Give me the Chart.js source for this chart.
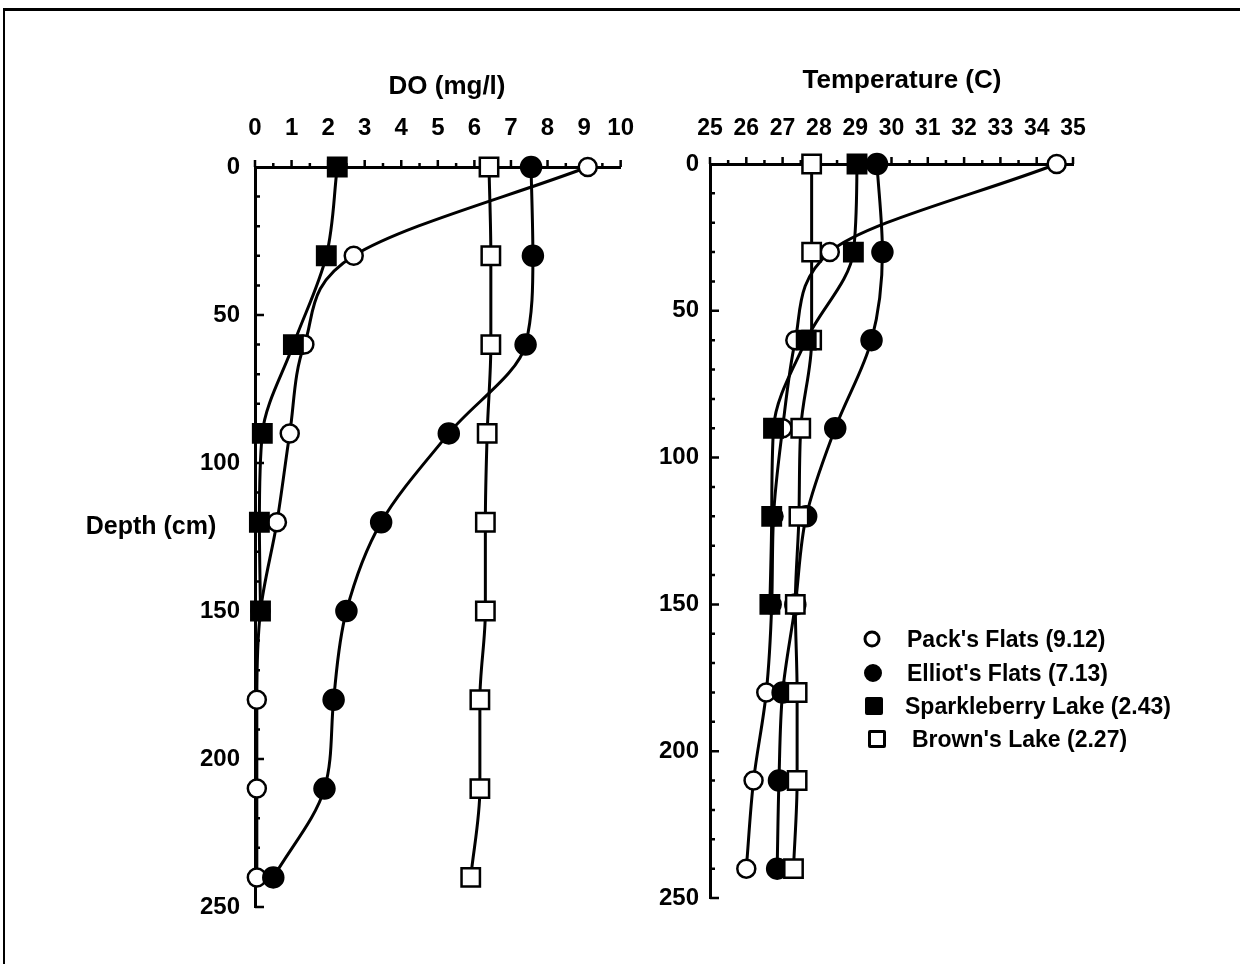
<!DOCTYPE html>
<html>
<head>
<meta charset="utf-8">
<script src="https://cdn.jsdelivr.net/npm/chart.js@4.4.1/dist/chart.umd.min.js"></script>
<style>
  body { margin: 0; background: #fff; width: 1240px; height: 964px; position: relative; overflow: hidden;
         font-family: "Liberation Sans", Arial, sans-serif; font-weight: bold; color: #000; }
  canvas { position: absolute; }
  .frame { position: absolute; left: 3px; top: 8px; width: 1240px; height: 960px;
           border-top: 3px solid #000; border-left: 2px solid #000; }
  .txt { position: absolute; white-space: nowrap; line-height: 1; transform: translate(-50%, -50%); }
  .leg { position: absolute; left: 0; top: 0; }
  .row { position: absolute; white-space: nowrap; font-size: 23px; line-height: 1; transform: translateY(-50%); }
  .mk { position: absolute; box-sizing: border-box; transform: translate(-50%, -50%); border: 3px solid #000; }
</style>
</head>
<body>
<div class="frame"></div>
<canvas id="doChart" width="470" height="964" style="left:180px;top:0"></canvas>
<canvas id="tempChart" width="590" height="964" style="left:650px;top:0"></canvas>

<div class="txt" style="left:447px;top:85px;font-size:26px">DO (mg/l)</div>
<div class="txt" style="left:902px;top:79px;font-size:26px">Temperature (C)</div>
<div class="txt" style="left:151px;top:525px;font-size:25px">Depth (cm)</div>
<div id="legend" class="leg"></div>

<script>
// sampling depths (cm) and axis ticks
const depths = [0, 30, 60, 90, 120, 150, 180, 210, 240]
const siteNames = ["Pack's Flats (9.12)", "Elliot's Flats (7.13)", "Sparkleberry Lake (2.43)", "Brown's Lake (2.27)"]

// dissolved oxygen (mg/l)
const doPacks = [9.1, 2.7, 1.35, 0.95, 0.6, 0.15, 0.05, 0.05, 0.05]
const doElliots = [7.55, 7.6, 7.4, 5.3, 3.45, 2.5, 2.15, 1.9, 0.5]
const doSparkle = [2.25, 1.95, 1.05, 0.2, 0.12, 0.15]
const doBrowns = [6.4, 6.45, 6.45, 6.35, 6.3, 6.3, 6.15, 6.15, 5.9]

// temperature (C)
const tPacks = [34.55, 28.3, 27.35, 27.0, 26.75, 26.7, 26.55, 26.2, 26.0]
const tElliots = [29.6, 29.75, 29.45, 28.45, 27.65, 27.35, 27.0, 26.9, 26.85]
const tSparkle = [29.05, 28.95, 27.65, 26.75, 26.7, 26.65]
const tBrowns = [27.8, 27.8, 27.8, 27.5, 27.45, 27.35, 27.4, 27.4, 27.3]

const markers = [
  { pointStyle: 'circle', pointRadius: 9, pointBackgroundColor: '#fff' },
  { pointStyle: 'circle', pointRadius: 10, pointBackgroundColor: '#000' },
  { pointStyle: 'rect', pointRadius: 13, pointBackgroundColor: '#000' },
  { pointStyle: 'rect', pointRadius: 13, pointBackgroundColor: '#fff' }
]

const toPoints = vals => vals.map((v, i) => ({ x: v, y: depths[i] }))

const makeDatasets = (series) => series.map((vals, i) => ({
  label: siteNames[i],
  data: toPoints(vals),
  borderColor: '#000',
  borderWidth: 3,
  pointBorderColor: '#000',
  pointBorderWidth: 2.5,
  cubicInterpolationMode: 'monotone',
  clip: false,
  ...markers[i]
}))

// draw order: first dataset ends up on top
const drawOrder = [2, 3, 1, 0]

// small tick marks: x ticks point up, depth ticks point into the plot
const tickMarks = {
  id: 'tickMarks',
  beforeDatasetsDraw(chart) {
    const { ctx, scales: { x, y }, chartArea } = chart
    ctx.save()
    ctx.strokeStyle = '#000'
    ctx.lineWidth = 2.5
    ctx.beginPath()
    for (let v = x.min; v <= x.max + 0.01; v += 0.5) {
      const px = x.getPixelForValue(v)
      const len = Number.isInteger(v) ? 7 : 4
      ctx.moveTo(px, chartArea.top)
      ctx.lineTo(px, chartArea.top - len)
    }
    for (let d = 10; d <= 250; d += 10) {
      const py = y.getPixelForValue(d)
      const len = d % 50 === 0 ? 9 : 5
      ctx.moveTo(chartArea.left, py)
      ctx.lineTo(chartArea.left + len, py)
    }
    ctx.stroke()
    ctx.restore()
  }
}

const makeChart = (id, series, xMin, xMax, cfg) => {
  const sets = makeDatasets(series)
  new Chart(document.getElementById(id), {
    type: 'line',
    data: { datasets: drawOrder.map(i => sets[i]) },
    options: {
      responsive: false,
      animation: false,
      devicePixelRatio: 1,
      indexAxis: 'y',
      layout: { padding: { left: 0, top: 0, right: cfg.padRight, bottom: cfg.padBottom } },
      plugins: { legend: { display: false }, tooltip: { enabled: false } },
      scales: {
        x: {
          type: 'linear',
          position: 'top',
          min: xMin,
          max: xMax,
          grid: { display: false },
          border: { display: true, color: '#000', width: 3 },
          ticks: {
            stepSize: 1,
            padding: cfg.xPad,
            color: '#000',
            maxRotation: 0,
            autoSkip: false,
            font: { family: 'Liberation Sans', weight: 'bold', size: cfg.xFont }
          },
          afterFit: s => { s.height = cfg.top }
        },
        y: {
          type: 'linear',
          reverse: true,
          min: 0,
          max: 250,
          grid: { display: false },
          border: { display: true, color: '#000', width: 3 },
          ticks: {
            stepSize: 50,
            padding: cfg.yPad,
            color: '#000',
            font: { family: 'Liberation Sans', weight: 'bold', size: 24 }
          },
          afterFit: s => { s.width = cfg.yWidth }
        }
      }
    },
    plugins: [tickMarks]
  })
}

makeChart('doChart', [doPacks, doElliots, doSparkle, doBrowns], 0, 10,
  { yWidth: 75, top: 167, padRight: 23, padBottom: 57, xPad: 16, yPad: 7, xFont: 24 })
makeChart('tempChart', [tPacks, tElliots, tSparkle, tBrowns], 25, 35,
  { yWidth: 60, top: 164, padRight: 167, padBottom: 66, xPad: 14, yPad: 3, xFont: 23 })

// legend
const legendRows = [
  { y: 639, mx: 872, tx: 907, size: 17, round: true, fill: '#fff' },
  { y: 673, mx: 873, tx: 907, size: 18, round: true, fill: '#000' },
  { y: 706, mx: 874, tx: 905, size: 18, round: false, fill: '#000' },
  { y: 739, mx: 877, tx: 912, size: 18, round: false, fill: '#fff' }
]
const legend = document.getElementById('legend')
legendRows.forEach((r, i) => {
  const mk = document.createElement('div')
  mk.className = 'mk'
  mk.style.cssText = `left:${r.mx}px;top:${r.y}px;width:${r.size}px;height:${r.size}px;background:${r.fill};border-radius:${r.round ? '50%' : '2px'}`
  legend.appendChild(mk)
  const t = document.createElement('div')
  t.className = 'row'
  t.style.left = r.tx + 'px'
  t.style.top = r.y + 'px'
  t.textContent = siteNames[i]
  legend.appendChild(t)
})
</script>
</body>
</html>
